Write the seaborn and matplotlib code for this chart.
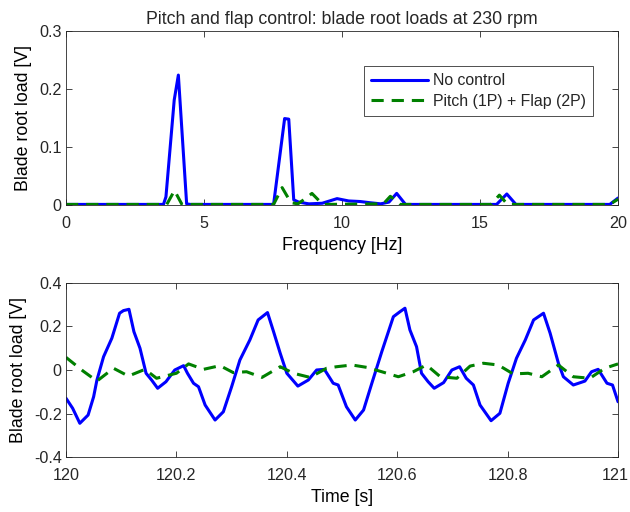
import pandas as pd
import seaborn as sns
import matplotlib
matplotlib.use("Agg")
import matplotlib.pyplot as plt
from matplotlib.transforms import ScaledTranslation

# Spectrum (top panel)
freq_nc = [0, 3.53, 3.62, 3.92, 4.07, 4.37, 4.5, 7.52, 7.92, 8.07, 8.25, 8.43,
           8.8, 9.28, 9.82, 10.24, 10.66, 11.0, 11.4, 11.7, 11.98, 12.3,
           15.6, 15.97, 16.3, 19.7, 20]
load_nc = [0.001, 0.001, 0.014, 0.181, 0.224, 0.002, 0.001, 0.001, 0.149, 0.148,
           0.009, 0.005, 0.002, 0.003, 0.011, 0.007, 0.006, 0.004, 0.002, 0.005,
           0.020, 0.001, 0.001, 0.019, 0.001, 0.001, 0.012]

freq_pf = [0, 3.65, 3.93, 4.2, 7.52, 7.83, 8.15, 8.4, 8.7, 8.91, 9.3, 11.5,
           11.75, 12.1, 15.4, 15.7, 16.0, 19.7, 20]
load_pf = [0.001, 0.001, 0.025, 0.001, 0.001, 0.030, 0.004, 0.002, 0.012, 0.020,
           0.001, 0.002, 0.015, 0.001, 0.001, 0.017, 0.001, 0.001, 0.010]

# Time series (bottom panel)
t_nc = [120.000, 120.012, 120.025, 120.040, 120.050, 120.056, 120.068, 120.083, 120.097, 120.104,
        120.114, 120.123, 120.134, 120.145, 120.155, 120.166, 120.181, 120.197, 120.213, 120.220,
        120.231, 120.240, 120.252, 120.270, 120.285, 120.300, 120.315, 120.333, 120.348, 120.365,
        120.376, 120.388, 120.400, 120.420, 120.439, 120.454, 120.468, 120.484, 120.493, 120.508,
        120.524, 120.539, 120.554, 120.572, 120.593, 120.605, 120.614, 120.623, 120.635, 120.644,
        120.656, 120.667, 120.684, 120.699, 120.713, 120.725, 120.738, 120.750, 120.770, 120.786,
        120.801, 120.816, 120.832, 120.847, 120.865, 120.877, 120.892, 120.901, 120.919, 120.940,
        120.952, 120.964, 120.980, 120.990, 121.000]
v_nc = [-0.130, -0.176, -0.245, -0.207, -0.123, -0.046, 0.061, 0.146, 0.261, 0.273,
        0.279, 0.176, 0.100, -0.015, -0.046, -0.084, -0.054, 0.000, 0.020, -0.015,
        -0.061, -0.077, -0.161, -0.230, -0.192, -0.077, 0.046, 0.138, 0.230, 0.264,
        0.176, 0.077, -0.015, -0.074, -0.046, 0.000, 0.003, -0.061, -0.069, -0.169,
        -0.230, -0.184, -0.061, 0.084, 0.245, 0.268, 0.284, 0.184, 0.107, -0.015,
        -0.054, -0.084, -0.058, 0.000, 0.015, -0.038, -0.069, -0.161, -0.233, -0.199,
        -0.061, 0.054, 0.138, 0.230, 0.261, 0.169, 0.031, -0.031, -0.069, -0.051,
        -0.008, 0.003, -0.061, -0.069, -0.146]

t_pf = [120.000, 120.031, 120.056, 120.086, 120.113, 120.143, 120.164, 120.200, 120.222, 120.249,
        120.279, 120.303, 120.327, 120.355, 120.388, 120.412, 120.442, 120.472, 120.490, 120.518,
        120.545, 120.572, 120.602, 120.629, 120.653, 120.678, 120.708, 120.732, 120.756, 120.783,
        120.810, 120.837, 120.862, 120.892, 120.919, 120.949, 120.976, 121.000]
v_pf = [0.058, -0.005, -0.051, 0.008, -0.028, 0.003, -0.038, -0.015, 0.028, 0.003,
        0.020, -0.012, -0.008, -0.034, 0.015, -0.015, -0.034, 0.008, 0.015, 0.023,
        0.012, -0.008, -0.031, -0.008, 0.023, -0.031, -0.038, 0.018, 0.031, 0.023,
        -0.018, -0.015, -0.031, 0.023, -0.031, -0.038, 0.008, 0.028]

labels = ['No control', 'Pitch (1P) + Flap (2P)']
top_xticks = [0, 5, 10, 15, 20]
top_yticks = [0, 0.1, 0.2, 0.3]
top_yticklabels = ['0', '0.1', '0.2', '0.3']
bot_xticks = [120, 120.2, 120.4, 120.6, 120.8, 121]
bot_xticklabels = ['120', '120.2', '120.4', '120.6', '120.8', '121']
bot_yticks = [-0.4, -0.2, 0, 0.2, 0.4]
bot_yticklabels = ['-0.4', '-0.2', '0', '0.2', '0.4']

sns.set_theme(style='white')
plt.rcParams['font.family'] = ['Liberation Sans', 'DejaVu Sans']
plt.rcParams['axes.unicode_minus'] = False

blue = '#0000FF'
green = '#008000'
lw = 2.2
dash = (0, (4, 2.6))
axcol = '#262626'
fs_tick = 11.6
fs_label = 12.8

spec_nc = pd.DataFrame({'f': freq_nc, 'v': load_nc})
spec_pf = pd.DataFrame({'f': freq_pf, 'v': load_pf})
ts_nc = pd.DataFrame({'t': t_nc, 'v': v_nc})
ts_pf = pd.DataFrame({'t': t_pf, 'v': v_pf})

fig = plt.figure(figsize=(6.3, 5.12), dpi=100)
ax1 = fig.add_axes([0.1048, 0.5996, 0.8762, 0.3399])
ax2 = fig.add_axes([0.1048, 0.1074, 0.8762, 0.3399])

sns.lineplot(data=spec_nc, x='f', y='v', ax=ax1, color=blue, linewidth=lw, label=labels[0])
sns.lineplot(data=spec_pf, x='f', y='v', ax=ax1, color=green, linewidth=lw,
             linestyle=dash, label=labels[1])
sns.lineplot(data=ts_nc, x='t', y='v', ax=ax2, color=blue, linewidth=lw, legend=False)
sns.lineplot(data=ts_pf, x='t', y='v', ax=ax2, color=green, linewidth=lw,
             linestyle=dash, legend=False)

ax1.set_xlim(0, 20)
ax1.set_ylim(0, 0.3)
ax1.set_xticks(top_xticks)
ax1.set_xticklabels([str(x) for x in top_xticks])
ax1.set_yticks(top_yticks)
ax1.set_yticklabels(top_yticklabels)
ax1.set_xlabel('Frequency [Hz]', fontsize=fs_label, labelpad=4)
ax1.set_ylabel('Blade root load [V]', fontsize=fs_label, labelpad=5)
ax1.set_title('Pitch and flap control: blade root loads at 230 rpm', fontsize=fs_label, pad=5)

ax2.set_xlim(120, 121)
ax2.set_ylim(-0.4, 0.4)
ax2.set_xticks(bot_xticks)
ax2.set_xticklabels(bot_xticklabels)
ax2.set_yticks(bot_yticks)
ax2.set_yticklabels(bot_yticklabels)
ax2.set_xlabel('Time [s]', fontsize=fs_label, labelpad=4)
ax2.set_ylabel('Blade root load [V]', fontsize=fs_label, labelpad=5)

for ax in (ax1, ax2):
    for sp in ax.spines.values():
        sp.set_visible(True)
        sp.set_color(axcol)
        sp.set_linewidth(0.6)
    ax.tick_params(axis='both', direction='in', length=4, width=0.6, color=axcol,
                   labelcolor=axcol, labelsize=fs_tick, top=True, right=True,
                   bottom=True, left=True)
    ax.tick_params(axis='x', pad=8)
    ax.tick_params(axis='y', pad=3)
    ax.xaxis.label.set_color('black')
    ax.yaxis.label.set_color('black')
    ax.grid(False)

# keep the last time label inside the figure
last = ax2.get_xticklabels()[-1]
last.set_transform(last.get_transform() + ScaledTranslation(-0.03, 0, fig.dpi_scale_trans))

leg = ax1.legend(loc='upper right', bbox_to_anchor=(593 / 630, 1 - 66 / 512),
                 bbox_transform=fig.transFigure, borderaxespad=0, fontsize=11.4,
                 frameon=True, fancybox=False, handlelength=3.6, handletextpad=0.3,
                 labelspacing=0.35, borderpad=0.45)
leg.get_frame().set_edgecolor('black')
leg.get_frame().set_linewidth(0.6)

fig.savefig('out.png', dpi=100)
